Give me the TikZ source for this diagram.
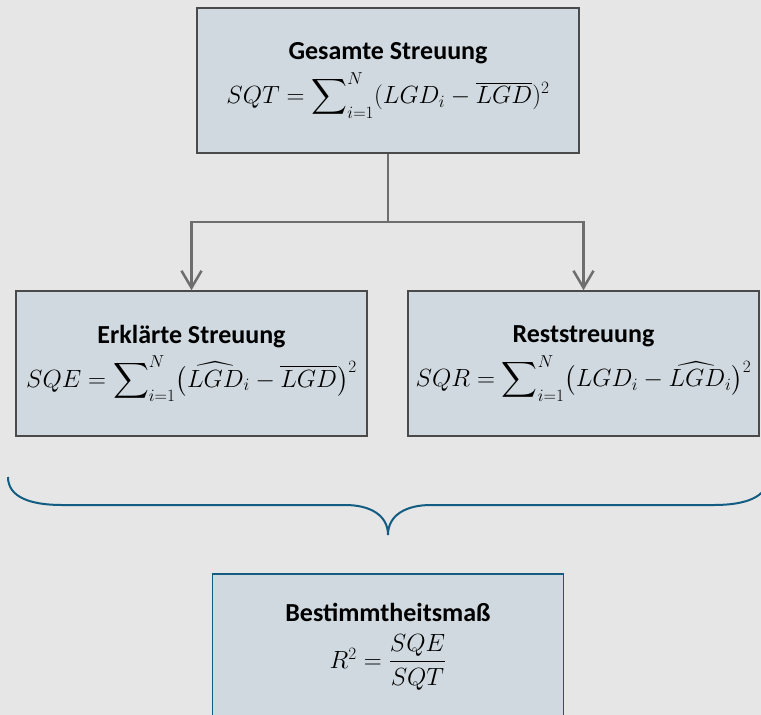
\documentclass[tikz,border=0pt]{standalone}
\usepackage{amsmath}
\usepackage{fontspec}
\setmainfont{Carlito}
\usetikzlibrary{arrows.meta,positioning}
\definecolor{bggray}{HTML}{E6E6E6}
\definecolor{boxfill}{HTML}{CFD9DF}
\definecolor{boxline}{HTML}{4A4A4A}
\definecolor{arrowgray}{HTML}{6E6E6E}
\definecolor{braceblue}{HTML}{145D82}
\newcommand{\boxtitle}[1]{{\fontsize{26}{30}\selectfont\textbf{#1}}}
\begin{document}
\begin{tikzpicture}[x=1pt, y=-1pt, >={Straight Barb[length=17pt,width=20pt]}, semithick]
        \tikzstyle{every node}=[font=\fontsize{23.5}{28}\selectfont]
        \tikzstyle{box}=[draw=boxline, line width=1.5pt, fill=boxfill, minimum width=351pt, minimum height=145pt, align=center, inner sep=0pt]
        \tikzstyle{link}=[draw=arrowgray, line width=2.5pt]
        \useasboundingbox (0,0) rectangle (761,715);
        \fill[bggray] (0,0) rectangle (761,715);
        \node[box, minimum width=382pt] (SQT) at (388,80.5)
            {\boxtitle{Gesamte Streuung}\\[7pt] $SQT=\displaystyle\sum\nolimits_{i=1}^{N}(LGD_i-\overline{LGD})^2$};
        \node[box] (SQE) at (191.5,363.5)
            {\boxtitle{Erklärte Streuung}\\[7pt] $SQE=\displaystyle\sum\nolimits_{i=1}^{N}\bigl(\widehat{LGD}_i-\overline{LGD}\bigr)^2$};
        \node[box] (SQR) at (583.5,363.5)
            {\boxtitle{Reststreuung}\\[7pt] $SQR=\displaystyle\sum\nolimits_{i=1}^{N}\bigl(LGD_i-\widehat{LGD}_i\bigr)^2$};
        \node[box, draw=braceblue] (R2) at (388,646.5)
            {\boxtitle{Bestimmtheitsmaß}\\[12pt] $R^2=\dfrac{SQE}{SQT}$};
        \coordinate (split) at (388,222);
        \draw[link] (SQT.south) -- (split);
        \draw[link,->] (split) -| (SQE.north);
        \draw[link,->] (split) -| (SQR.north);
        \draw[braceblue, line width=2pt] (8,477) .. controls (8,497) and (30,505) .. (62,505) -- (345,505)
            .. controls (370,505) and (388,515) .. (388,535) .. controls (388,515) and (406,505) .. (431,505)
            -- (714,505) .. controls (746,505) and (768,497) .. (768,477);
\end{tikzpicture}
\end{document}
